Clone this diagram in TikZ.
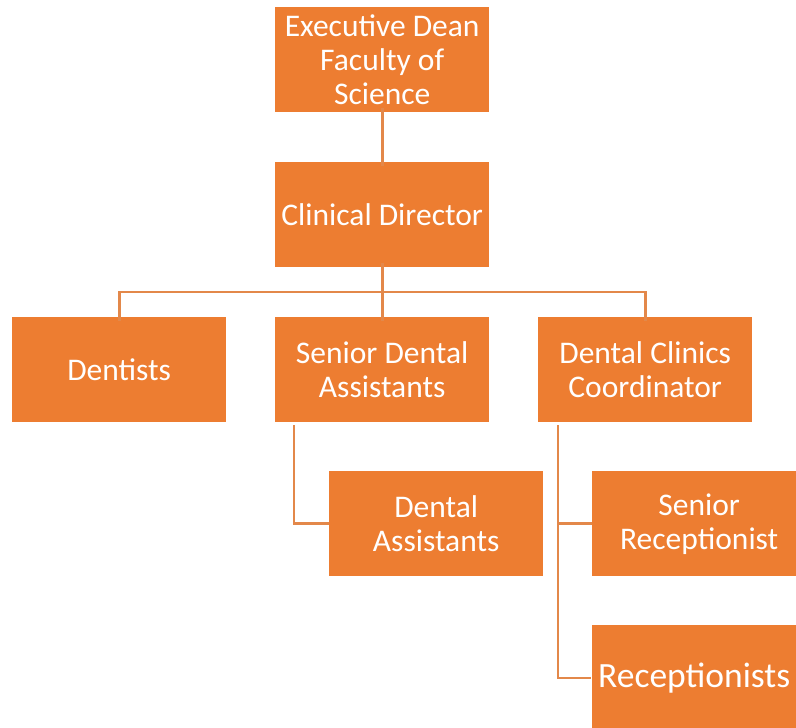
\documentclass[tikz,border=0pt]{standalone}
\usepackage{fontspec}
\setmainfont{Carlito}
\definecolor{boxor}{HTML}{ED7D31}
\definecolor{lineor}{HTML}{E3884A}
\begin{document}
\begin{tikzpicture}[x=1pt,y=-1pt,
  orgbox/.style={fill=boxor, draw=none, minimum width=214pt, minimum height=105pt,
    text=white, align=center, inner sep=0pt, font=\fontsize{31.5}{34}\selectfont},
  link/.style={draw=lineor, line width=2.6pt}]
\useasboundingbox (0,0) rectangle (796,728);
\begin{scope}
\clip (0,0) rectangle (796,728);
\node[orgbox, anchor=north west] (dean) at (275,7) {Executive Dean\\Faculty of\\Science};
\node[orgbox, anchor=north west] (cd) at (275,162) {Clinical Director};
\node[orgbox, anchor=north west] (dent) at (12,317) {Dentists};
\node[orgbox, anchor=north west] (sda) at (275,317) {Senior Dental\\Assistants};
\node[orgbox, anchor=north west] (dcc) at (538,317) {Dental Clinics\\Coordinator};
\node[orgbox, anchor=north west] (da) at (329,471) {Dental\\Assistants};
\node[orgbox, anchor=north west] (sr) at (592,471) {Senior\\Receptionist};
\node[orgbox, anchor=north west, minimum width=204pt, minimum height=106pt, font=\fontsize{35.5}{40}\selectfont] (rec) at (592,625) {Receptionists};
\fill[boxor] (rec.north east) rectangle (806,731);
\end{scope}
\coordinate (hb) at (382,292);
\draw[link] ([yshift=4pt]dean.south) -- ([yshift=-4pt]cd.north);
\draw[link] ([yshift=4pt]cd.south) -- ([yshift=-4pt]sda.north);
\draw[link] ([yshift=-4pt]dent.north) |- (hb) -| ([yshift=-4pt]dcc.north);
\coordinate (sdaL) at (294,425);
\coordinate (dccL) at (558,425);
\draw[link] (sdaL) |- (da.west);
\draw[link] (dccL) |- (sr.west);
\draw[link] (dccL) |- ([xshift=-1pt]rec.west |- 0,678);
\end{tikzpicture}
\end{document}
